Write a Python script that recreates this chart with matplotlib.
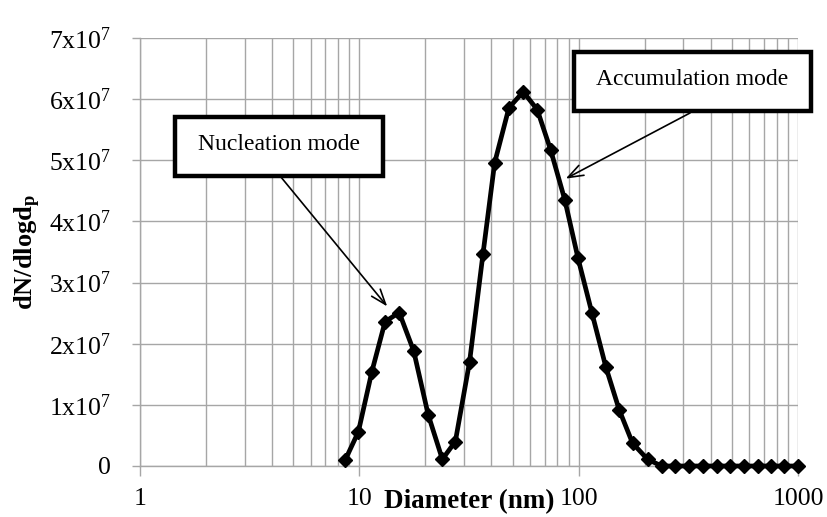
import matplotlib
matplotlib.use("Agg")
import matplotlib.pyplot as plt
from matplotlib.patches import Rectangle
from matplotlib.ticker import FixedLocator, LogLocator, NullFormatter

plt.rcParams['font.family'] = ['Liberation Serif', 'DejaVu Serif']
plt.rcParams['mathtext.fontset'] = 'custom'
plt.rcParams['mathtext.rm'] = 'Liberation Serif'
plt.rcParams['mathtext.it'] = 'Liberation Serif:italic'
plt.rcParams['mathtext.bf'] = 'Liberation Serif:bold'

# Data
diameter_nm = [8.6, 9.9, 11.4, 13.1, 15.2, 17.7, 20.6, 23.9, 27.4, 31.8, 36.6, 41.4,
               48.1, 55.9, 64.7, 74.5, 86.5, 99.3, 115, 133, 153, 176, 206, 239,
               275, 317, 367, 426, 489, 565, 655, 753, 865, 1000]
dN_dlogdp_e7 = [0.09, 0.56, 1.54, 2.36, 2.51, 1.88, 0.84, 0.11, 0.40, 1.70, 3.46, 4.96,
                5.86, 6.12, 5.83, 5.17, 4.35, 3.40, 2.50, 1.62, 0.92, 0.375, 0.11, 0,
                0, 0, 0, 0, 0, 0, 0, 0, 0, 0]
dN_dlogdp = [v * 1e7 for v in dN_dlogdp_e7]

y_ticks = [0, 1e7, 2e7, 3e7, 4e7, 5e7, 6e7, 7e7]
y_tick_labels = ['0'] + [f'{i}x10$^{{7}}$' for i in range(1, 8)]
x_ticks = [1, 10, 100, 1000]
x_tick_labels = ['1', '10', '100', '1000']

grid_c = '#a6a6a6'

fig = plt.figure(figsize=(8.28, 5.17), dpi=100)
ax = fig.add_axes([140/828, 51/517, 658/828, 428/517])

ax.set_xscale('log')
ax.set_xlim(1, 1000)
ax.set_ylim(0, 7e7)

ax.plot(diameter_nm, dN_dlogdp, color='black', lw=3.4, marker='D', ms=7.5,
        mfc='black', mec='black', zorder=5, clip_on=False)

ax.xaxis.set_major_locator(FixedLocator(x_ticks))
ax.set_xticklabels(x_tick_labels)
ax.xaxis.set_minor_locator(LogLocator(base=10, subs=range(2, 10)))
ax.xaxis.set_minor_formatter(NullFormatter())
ax.set_yticks(y_ticks)
ax.set_yticklabels(y_tick_labels)

ax.grid(True, which='both', axis='x', color=grid_c, lw=1.0)
ax.grid(True, which='major', axis='y', color=grid_c, lw=1.0)
ax.set_axisbelow(True)

for s in ['top', 'right']:
    ax.spines[s].set_visible(False)
for s in ['left', 'bottom']:
    ax.spines[s].set_color(grid_c)
    ax.spines[s].set_linewidth(1.0)

ax.tick_params(axis='x', which='major', direction='out', length=7, width=1.0,
               color=grid_c, labelsize=18.5, pad=9)
ax.tick_params(axis='x', which='minor', length=0)
ax.tick_params(axis='y', which='major', direction='out', length=6, width=1.0,
               color=grid_c, labelsize=18.5, pad=15)

ax.set_xlabel('Diameter (nm)', fontsize=19.5, fontweight='bold')
ax.xaxis.set_label_coords(0.5, -0.084)
ax.xaxis.label.set_va('center')
ax.set_ylabel(r'dN/dlogd$_\mathbf{p}$', fontsize=19, fontweight='bold')
ax.yaxis.label.set_va('center')
ax.yaxis.set_label_coords(-0.170, 0.5)

# Annotation boxes
def box(x0, y0, x1, y1, text, tx, ty):
    ax.add_patch(Rectangle((x0, y0), x1 - x0, y1 - y0, transform=ax.transAxes,
                           fill=True, fc='white', ec='black', lw=3.2,
                           clip_on=False, zorder=6))
    ax.text(tx, ty, text, transform=ax.transAxes, ha='center', va='center',
            fontsize=17, zorder=7)

arrow = dict(arrowstyle='->,head_length=1.1,head_width=0.4',
             color='black', lw=1.2, shrinkA=0, shrinkB=0)

box(0.0532, 0.6776, 0.3698, 0.8162, 'Nucleation mode', 0.2112, 0.752)
ax.annotate('', xy=(13.4, 2.61e7), xycoords='data',
            xytext=(0.2138, 0.6759), textcoords='axes fraction',
            arrowprops=arrow, zorder=7)

box(0.6596, 0.8301, 1.0193, 0.9666, 'Accumulation mode', 0.8389, 0.902)
ax.annotate('', xy=(87.3, 4.70e7), xycoords='data',
            xytext=(0.8359, 0.8248), textcoords='axes fraction',
            arrowprops=arrow, zorder=7)

fig.savefig('out.png', dpi=100)
